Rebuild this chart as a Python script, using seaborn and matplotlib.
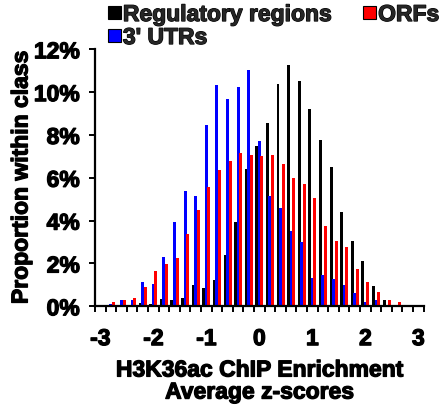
import numpy as np
import pandas as pd
import matplotlib
matplotlib.use("Agg")
import matplotlib.pyplot as plt
import matplotlib.patheffects as pe
import seaborn as sns
from matplotlib.patches import Patch
from matplotlib.ticker import PercentFormatter, FixedLocator

# ---- data (percent of class per z-score bin) ----
z_bins = ["-3.0", "-2.8", "-2.6", "-2.4", "-2.2", "-2.0", "-1.8", "-1.6", "-1.4", "-1.2",
          "-1.0", "-0.8", "-0.6", "-0.4", "-0.2", "0.0", "0.2", "0.4", "0.6", "0.8",
          "1.0", "1.2", "1.4", "1.6", "1.8", "2.0", "2.2", "2.4", "2.6", "2.8", "3.0"]
regulatory = [0.02, 0.02, 0.02, 0.06, 0.15, 0.10, 0.34, 0.29, 0.39, 0.99,
              0.86, 1.23, 2.40, 3.94, 6.42, 7.49, 8.56, 10.39, 11.27, 10.53,
              9.22, 7.77, 6.51, 4.41, 3.05, 2.12, 0.95, 0.30, 0.06, 0.02, 0.0]
utr3 = [0.07, 0.10, 0.30, 0.30, 1.13, 1.04, 2.30, 3.94, 5.39, 5.16,
        8.47, 10.34, 9.69, 10.25, 11.04, 7.72, 5.15, 4.59, 3.52, 3.00,
        1.32, 1.46, 1.28, 0.99, 0.62, 0.20, 0.30, 0.06, 0.06, 0.0, 0.0]
orfs = [0.0, 0.20, 0.30, 0.39, 0.90, 1.65, 1.98, 2.26, 3.38, 4.50,
        5.57, 6.37, 6.79, 7.16, 7.07, 7.02, 7.07, 6.65, 6.00, 5.72,
        5.06, 3.75, 3.05, 2.77, 1.74, 1.13, 0.67, 0.30, 0.20, 0.06, 0.03]
class_names = ["Regulatory regions", "3' UTRs", "ORFs"]
class_colors = ["#000000", "#0000FF", "#FF0000"]
x_tick_labels = ["-3", "-2", "-1", "0", "1", "2", "3"]
y_ticks = [0, 2, 4, 6, 8, 10, 12]

df = pd.DataFrame({
    "z": z_bins * 3,
    "value": regulatory + utr3 + orfs,
    "cls": [class_names[0]] * len(z_bins) + [class_names[1]] * len(z_bins) + [class_names[2]] * len(z_bins),
})

sns.set_theme(style="white")
plt.rcParams["font.family"] = ["Liberation Sans", "DejaVu Sans"]
plt.rcParams["font.weight"] = "bold"

W, H = 443, 412
fig = plt.figure(figsize=(W / 100, H / 100), dpi=100)
fig.patch.set_facecolor("white")
x0, x1, ytop, ybot = 95, 423.7, 49.3, 306.3
ax = fig.add_axes([x0 / W, 1 - ybot / H, (x1 - x0) / W, (ybot - ytop) / H])

sns.barplot(data=df, x="z", y="value", hue="cls", order=z_bins, hue_order=class_names,
            palette=class_colors, width=0.72, linewidth=0, ax=ax, legend=False,
            errorbar=None, saturation=1)

# widen bars slightly so neighbours touch like the original
for p in ax.patches:
    c = p.get_x() + p.get_width() / 2
    p.set_width(0.28)
    p.set_x(c - 0.14)

ax.set_xlim(-0.5, len(z_bins) - 0.5)
ax.set_ylim(0, 12)
ax.set_facecolor("white")
for s in ["top", "right"]:
    ax.spines[s].set_visible(False)
for s in ["left", "bottom"]:
    ax.spines[s].set_color("black")
    ax.spines[s].set_linewidth(1.6)

fs = 16.5
heavy = [pe.withStroke(linewidth=0.9, foreground="black")]

ax.set_xticks([0, 5, 10, 15, 20, 25, 30])
ax.set_xticklabels(x_tick_labels, fontsize=fs, fontweight="bold")
ax.xaxis.set_minor_locator(FixedLocator(np.arange(-0.5, len(z_bins), 1.0)))
ax.tick_params(axis="x", which="major", length=0, pad=15, colors="black")
ax.tick_params(axis="x", which="minor", length=4, width=1.4, direction="out", color="black", bottom=True)

ax.set_yticks(y_ticks)
ax.yaxis.set_major_formatter(PercentFormatter(xmax=100, decimals=0))
ax.tick_params(axis="y", which="major", length=4, width=1.4, direction="out", pad=7,
               labelsize=fs, colors="black", left=True)

ax.set_xlabel("H3K36ac ChIP Enrichment\nAverage z-scores", fontsize=fs, fontweight="bold",
              labelpad=6, linespacing=0.95, color="black")
ax.set_ylabel("Proportion within class", fontsize=fs, fontweight="bold", labelpad=1, color="black")
ax.grid(False)

handles = [Patch(facecolor="#000000", edgecolor="#000000", linewidth=0.8),
           Patch(facecolor="#0000FF", edgecolor="#000000", linewidth=0.8),
           Patch(facecolor="#FF0000", edgecolor="#000000", linewidth=0.8)]
leg = fig.legend(handles, class_names, ncol=2, loc="upper left", bbox_to_anchor=(108 / W, 1 - 3 / H),
                 frameon=False, prop={"weight": "bold", "size": fs},
                 handlelength=0.55, handleheight=0.5, handletextpad=0.1, columnspacing=1.4,
                 labelspacing=0.0, borderpad=0, borderaxespad=0)

texts = list(ax.get_xticklabels()) + list(ax.get_yticklabels()) + [ax.xaxis.label, ax.yaxis.label] + list(leg.get_texts())
for t in texts:
    t.set_fontweight("bold")
    t.set_path_effects(heavy)

fig.savefig("out.png", dpi=100, facecolor="white")
